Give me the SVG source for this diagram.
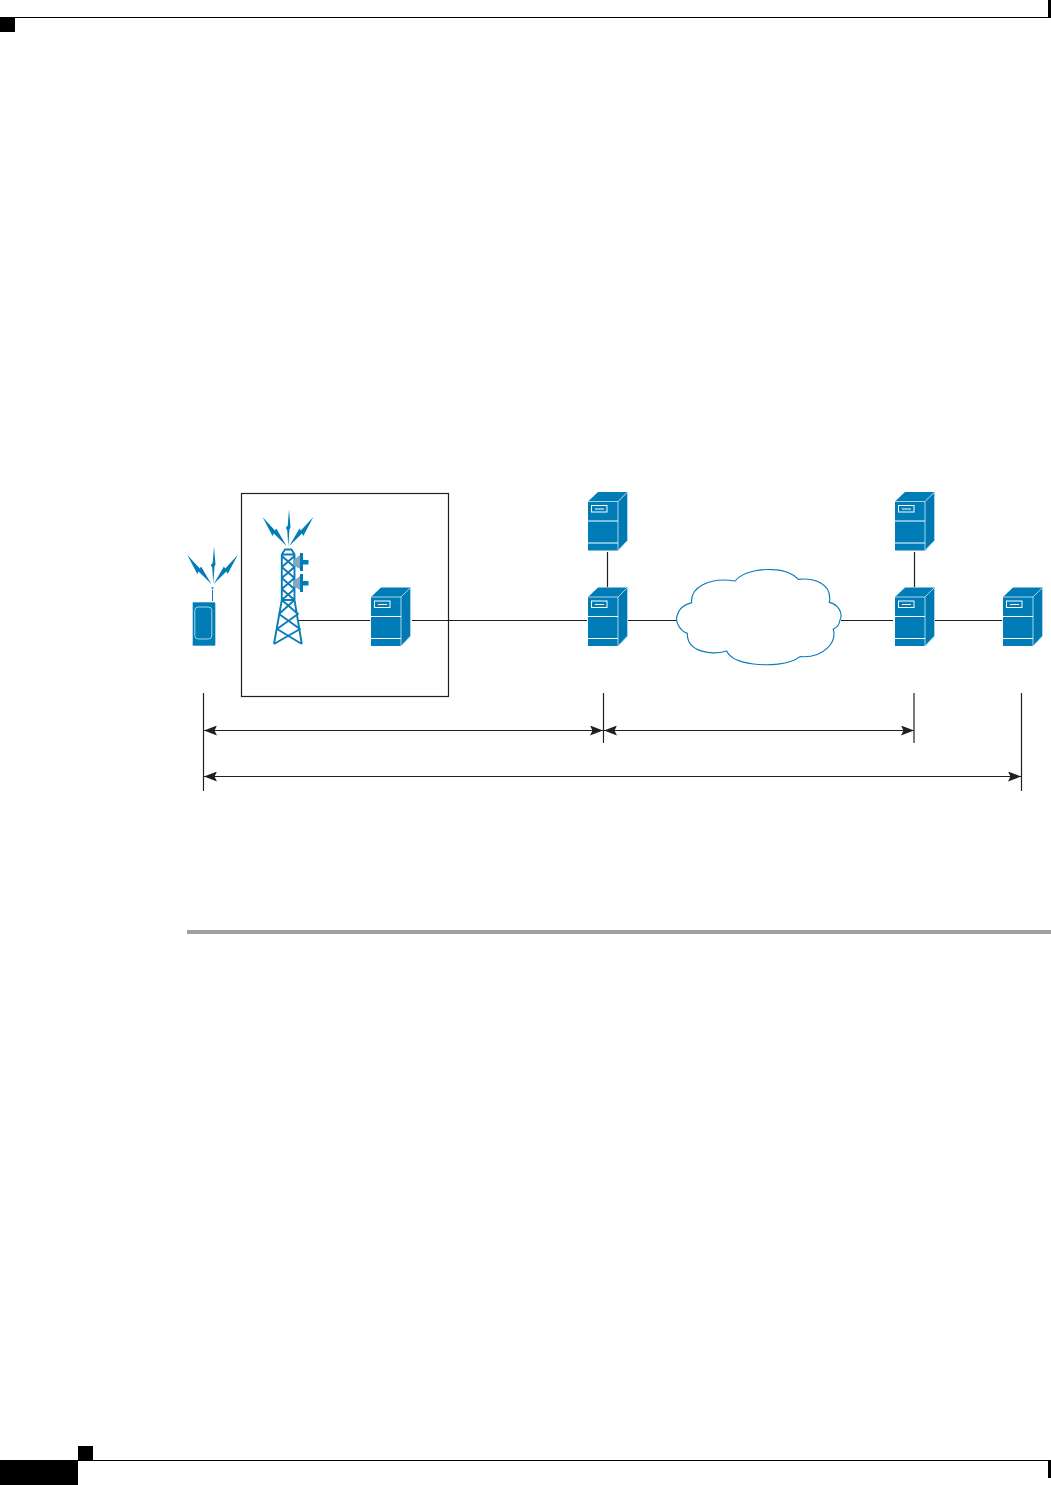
<svg xmlns="http://www.w3.org/2000/svg" xmlns:xlink="http://www.w3.org/1999/xlink" width="1051" height="1485" viewBox="0 0 1051 1485">
<style>
.k{fill:#000}
.ln{stroke:#231f20;stroke-width:1.2;fill:none}
.b{fill:#007cb6}
.s{fill:none;stroke:#fff;stroke-width:1}
.t{fill:none;stroke:#0a7db8;stroke-width:1.9;stroke-linejoin:round}
</style>
<defs>
<marker id="ah" viewBox="0 0 13 10" refX="13" refY="5" markerWidth="13" markerHeight="10" markerUnits="userSpaceOnUse" orient="auto-start-reverse"><path d="M0 0L13 5L0 10L2.500 5Z" fill="#231f20"/></marker>
<g id="srv">
<path d="M0 9.500L10 0H39.500L30 9.500Z" fill="#007cb6"/>
<path d="M30 9.500L39.500 0V48.500L30 58.500Z" fill="#0079b3"/>
<rect class="b" x="0" y="9.500" width="30" height="49"/>
<path d="M0 9.500H30V58.500M30 9.500L39.500 0V48.500L30 58.500" fill="none" stroke="#a9d3e8" stroke-width="1"/>
<rect class="s" x="3.500" y="13.500" width="15.500" height="6.500"/>
<path class="s" d="M7 17H16M0 29H30M0 51H30"/>
</g>
<path id="bolt" class="b" d="M0 0L12.500 13.500L13.800 11.500L24 29L11.300 16.500L10 19Z"/>
<path id="bolt-c" class="b" d="M1.500 0L3 18L2 20L.8 37L-.3 21L-1.700 18.500L.2 16.500Z"/>
<g id="ant">
<path d="M293 560.500L300 555V569L293 565Z" fill="#7fa9c4"/>
<path class="b" d="M300 553H303V560H308.500V564.500H303V571H300Z"/>
</g>
</defs>
<g id="page-furniture">
<rect class="k" x="0" y="17" width="1051" height="1"/>
<rect class="k" x="0" y="17" width="15" height="15"/>
<rect class="k" x="1048" y="0" width="3" height="18"/>
<rect class="k" x="0" y="1460" width="78" height="25"/>
<rect class="k" x="78" y="1446" width="15" height="14"/>
<rect class="k" x="78" y="1460" width="973" height="1"/>
<rect class="k" x="1048" y="1460" width="3" height="18"/>
<rect x="187" y="930" width="864" height="4" fill="#a0a0a0"/>
</g>
<g id="connectors">
<path class="ln" d="M299 620.500H370M412 620.500H587M628 620.500H677M841 620.500H893M935 620.500H1002M607.500 552V587M914.500 552V587"/>
<path class="ln" d="M203.500 693V791M603.500 693V743M914 693V743M1021.500 693V791"/>
<path class="ln" marker-start="url(#ah)" marker-end="url(#ah)" d="M204 730.500H603"/>
<path class="ln" marker-start="url(#ah)" marker-end="url(#ah)" d="M604 730.500H914"/>
<path class="ln" marker-start="url(#ah)" marker-end="url(#ah)" d="M204 776.500H1021"/>
</g>
<g id="enclosure"><rect x="241.500" y="493.500" width="207" height="203" fill="none" stroke="#231f20" stroke-width="1.200"/></g>
<g id="handset">
<rect class="b" x="192.700" y="602.300" width="22.300" height="43.400"/>
<path d="M215.500 603V645" stroke="#a9d3e8" stroke-width="1" fill="none"/>
<rect x="194.800" y="607" width="17" height="32" rx="3.500" fill="none" stroke="#a9d3e8" stroke-width="1"/>
<path d="M212.500 590V601" stroke="#0a7db8" stroke-width="1"/>
<circle cx="212.500" cy="588" r="1" class="b"/>
<use xlink:href="#bolt" href="#bolt" transform="translate(187.300 555)"/>
<use xlink:href="#bolt-c" href="#bolt-c" transform="translate(212.500 546.500)"/>
<use xlink:href="#bolt" href="#bolt" transform="translate(237.700 555) scale(-1 1)"/>
</g>
<g id="tower">
<use xlink:href="#bolt" href="#bolt" transform="translate(262.500 517)"/>
<use xlink:href="#bolt-c" href="#bolt-c" transform="translate(287.500 509.300)"/>
<use xlink:href="#bolt" href="#bolt" transform="translate(313.300 517) scale(-1 1)"/>
<path class="t" d="M281.800 600V554.500L285 549.500H291.500L294.500 554.500V600ZM281.800 554.500H294.500M281.800 600L274 644M294.500 600L301.800 644M281.800 556L294.500 567L281.800 578L294.500 589L281.800 600M294.500 556L281.800 567L294.500 578L281.800 589L294.500 600M281.800 600L298 614L277 629L301.800 644M294.500 600L279 614L300 629L274 644"/>
<use xlink:href="#ant" href="#ant"/>
<use xlink:href="#ant" href="#ant" transform="translate(0 21)"/>
</g>
<g id="server-1"><use xlink:href="#srv" href="#srv" transform="translate(371 587.500)"/></g>
<g id="server-2"><use xlink:href="#srv" href="#srv" transform="translate(588 492)"/></g>
<g id="server-3"><use xlink:href="#srv" href="#srv" transform="translate(588 587.500)"/></g>
<g id="server-4"><use xlink:href="#srv" href="#srv" transform="translate(895 492)"/></g>
<g id="server-5"><use xlink:href="#srv" href="#srv" transform="translate(895 587.500)"/></g>
<g id="server-6"><use xlink:href="#srv" href="#srv" transform="translate(1003 587.500)"/></g>
<g id="cloud"><path transform="translate(580 485) scale(.33333)" d="M465 288C490 255 555 252 580 254C615 255 640 268 655 283C700 278 758 295 748 352C775 358 790 385 780 405C778 420 770 428 760 432C770 470 735 520 660 515C630 540 560 542 520 537C480 532 450 520 440 498C400 510 320 505 322 445C295 435 285 405 292 390C298 365 320 357 335 353C330 310 385 275 465 288Z" fill="#fff" stroke="#0a7db8" stroke-width="3.500"/></g>
</svg>
